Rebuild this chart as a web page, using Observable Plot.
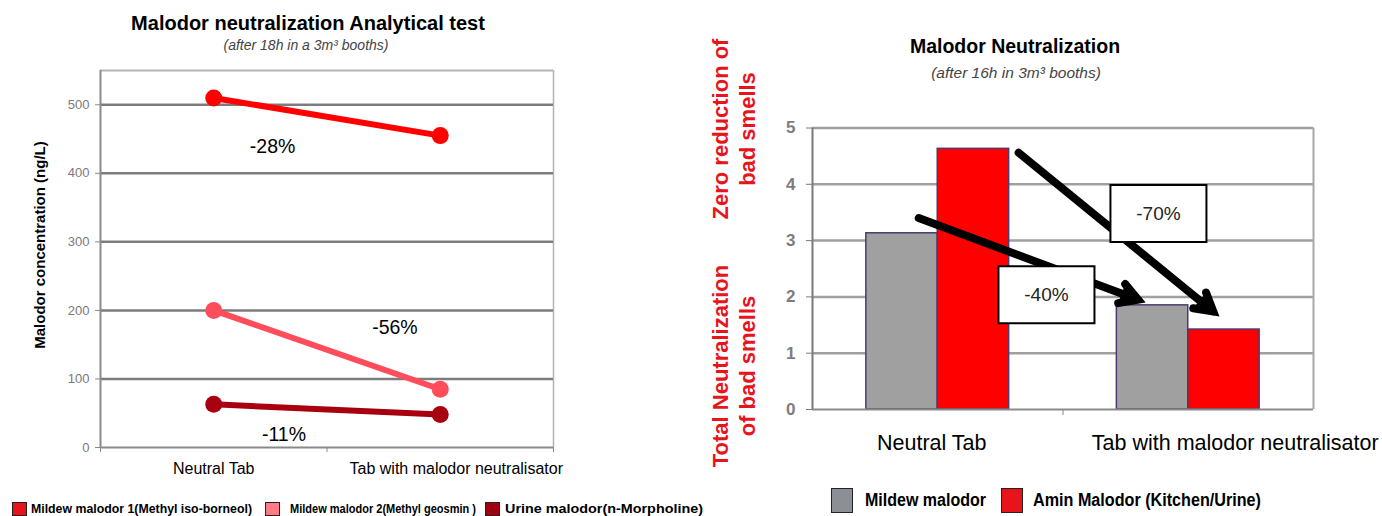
<!DOCTYPE html>
<html>
<head>
<meta charset="utf-8">
<script src="https://cdn.jsdelivr.net/npm/d3@7"></script>
<script src="https://cdn.jsdelivr.net/npm/@observablehq/plot@0.6"></script>
<style>
  html, body { margin: 0; padding: 0; background: #fff; }
  body { width: 1382px; height: 516px; position: relative; overflow: hidden;
         font-family: "Liberation Sans", Arial, sans-serif; }
  .abs { position: absolute; }
  .title { font-weight: bold; color: #000; white-space: nowrap; transform: translateX(-50%); }
  .sub { font-style: italic; color: #444; white-space: nowrap; transform: translateX(-50%); }
  .rot { color: #e8141c; font-weight: bold; font-size: 22px; line-height: 27px; text-align: center;
         white-space: nowrap; transform: translate(-50%, -50%) rotate(-90deg); }
  .leg { white-space: nowrap; font-weight: bold; color: #000; transform-origin: left center;
         font-family: "Liberation Sans", Arial, sans-serif; }
  .sw { display: inline-block; box-sizing: border-box; border: 1.5px solid #222; }
</style>
</head>
<body>
<div class="abs title" style="left:308px; top:12px; font-size:20px;">Malodor neutralization Analytical test</div>
<div class="abs sub" style="left:306px; top:37px; font-size:14px;">(after 18h in a 3m³ booths)</div>
<div class="abs title" style="left:1015px; top:35px; font-size:19.5px;">Malodor Neutralization</div>
<div class="abs sub" style="left:1016px; top:64px; font-size:15.5px;">(after 16h in 3m³ booths)</div>

<div class="abs rot" style="left:734px; top:129px;">Zero reduction of<br>bad smells</div>
<div class="abs rot" style="left:734px; top:366px;">Total Neutralization<br>of bad smells</div>

<div id="left" class="abs" style="left:0; top:50px;"></div>
<div id="right" class="abs" style="left:740px; top:110px;"></div>
<div id="legLeft"></div>
<div id="legRight"></div>

<script>
// ---------- data: left chart (line) ----------
const leftCategories = ["Neutral Tab", "Tab with malodor neutralisator"];
const leftSeries = ["Mildew malodor 1(Methyl iso-borneol)", "Mildew malodor 2(Methyl geosmin )", "Urine malodor(n-Morpholine)"];
const neutralTabValues = [510, 200, 63];
const neutraliserTabValues = [455, 85, 48];
const leftTicks = [0, 100, 200, 300, 400, 500];
const leftChangeText = ["-28%", "-56%", "-11%"];
const leftChangeAtX = [0.26, 0.80, 0.31];   // in category units
const leftChangeAtY = [439, 174, 19];       // in ng/L

// ---------- data: right chart (bars) ----------
const barCategories = ["Neutral Tab", "Tab with malodor neutralisator"];
const barSeries = ["Mildew malodor", "Amin Malodor (Kitchen/Urine)"];
const mildewValues = [3.13, 1.85];
const aminValues = [4.63, 1.42];
const barTicks = [0, 1, 2, 3, 4, 5];
const barChangeText = ["-70%", "-40%"];
const barChangeAtX = [0.881, 0.434];
const barChangeAtY = [3.48, 2.04];
const arrowFromX = [0.323, -0.076];
const arrowFromY = [4.56, 3.40];
const arrowToX = [1.10, 0.80];
const arrowToY = [1.74, 1.95];

// ---------- styles ----------
const lineColors = ["#ff0000", "#ff4d5c", "#a8000f"];
const legendLineColors = ["#e8141c", "#ff7b85", "#a0000f"];
const barColors = ["#a0a0a0", "#ff0000"];
const legendBarColors = ["#8c9096", "#e8141c"];
const FONT = "Liberation Sans, Arial, sans-serif";

// ---------- left chart ----------
const leftRows = [];
leftSeries.forEach((s, i) => {
  leftRows.push({series: s, ci: 0, value: neutralTabValues[i]});
  leftRows.push({series: s, ci: 1, value: neutraliserTabValues[i]});
});
const leftLabels = leftChangeText.map((t, i) => ({t, x: leftChangeAtX[i], y: leftChangeAtY[i]}));

const left = Plot.plot({
  width: 600, height: 432,
  marginLeft: 100, marginRight: 47, marginTop: 20, marginBottom: 35,
  x: {type: "linear", domain: [-0.5, 1.5], axis: null},
  y: {domain: [0, 550], axis: null},
  color: {domain: leftSeries, range: lineColors},
  style: {fontFamily: FONT, background: "transparent", overflow: "visible"},
  marks: [
    Plot.ruleY([550], {stroke: "#b4b4b4", strokeWidth: 2}),
    Plot.ruleX([1.5], {stroke: "#b4b4b4", strokeWidth: 1.5}),
    Plot.ruleY(leftTicks.slice(1), {stroke: "#7c7c7c", strokeWidth: 2.5}),
    Plot.ruleY([0], {stroke: "#8a8a8a", strokeWidth: 2}),
    Plot.ruleX([-0.5], {stroke: "#8a8a8a", strokeWidth: 2}),
    Plot.axisY({ticks: leftTicks, tickSize: 5, tickPadding: 6, stroke: "#8a8a8a", fill: "#7a7a7a",
                fontSize: 13, label: null, tickFormat: d => String(d)}),
    Plot.axisX({ticks: [-0.5, 0.5, 1.5], tickSize: 5, tickFormat: () => "", stroke: "#8a8a8a", label: null}),
    Plot.axisX({ticks: [0], tickSize: 0, tickPadding: 15, fontSize: 16, fill: "#000",
                tickFormat: i => leftCategories[i], label: null}),
    Plot.axisX({ticks: [1], tickSize: 0, tickPadding: 15, fontSize: 16, fill: "#000", dx: 16,
                tickFormat: i => leftCategories[i], label: null}),
    Plot.text(["Malodor concentration (ng/L)"], {frameAnchor: "left", textAnchor: "middle", rotate: -90,
                dx: -60, dy: -14, fontSize: 15, fontWeight: "bold", fill: "#000", text: d => d}),
    Plot.line(leftRows, {x: "ci", y: "value", z: "series", stroke: "series", strokeWidth: 6}),
    Plot.dot(leftRows, {x: "ci", y: "value", fill: "series", r: 8.5}),
    Plot.text(leftLabels, {x: "x", y: "y", text: "t", fontSize: 19.5, fill: "#000"})
  ]
});
document.getElementById("left").appendChild(left);

// ---------- right chart ----------
const barW = 0.285;
const barRows = [];
barCategories.forEach((c, ci) => {
  barRows.push({series: barSeries[0], ci, si: 0, value: mildewValues[ci]});
  barRows.push({series: barSeries[1], ci, si: 1, value: aminValues[ci]});
});
const arrows = arrowFromX.map((_, i) => ({x1: arrowFromX[i], y1: arrowFromY[i], x2: arrowToX[i], y2: arrowToY[i]}));
const boxes = barChangeText.map((t, i) => ({t, x: barChangeAtX[i], y: barChangeAtY[i]}));
const boxSymbol = {draw(ctx) { ctx.rect(-48, -28.5, 96, 57); }};

const right = Plot.plot({
  width: 642, height: 350,
  marginLeft: 72, marginRight: 69, marginTop: 17.5, marginBottom: 51,
  x: {type: "linear", domain: [-0.5, 1.5], axis: null},
  y: {domain: [0, 5], axis: null},
  color: {domain: barSeries, range: barColors},
  style: {fontFamily: FONT, background: "transparent", overflow: "visible"},
  marks: [
    Plot.ruleY(barTicks.slice(1), {stroke: "#a0a0a0", strokeWidth: 2.5}),
    Plot.ruleX([1.5], {stroke: "#a8a8a8", strokeWidth: 2}),
    Plot.rectY(barRows, {x1: d => d.ci + (d.si - 1) * barW, x2: d => d.ci + d.si * barW,
                         y1: 0, y2: "value", fill: "series", stroke: "#4a3a6e", strokeWidth: 1.5}),
    Plot.ruleY([0], {stroke: "#8a8a8a", strokeWidth: 2}),
    Plot.ruleX([-0.5], {stroke: "#7a7a7a", strokeWidth: 2}),
    Plot.axisY({ticks: barTicks, tickSize: 6, tickPadding: 11, stroke: "#7a7a7a", fill: "#7d7d7d",
                fontSize: 17, fontWeight: "bold", label: null, tickFormat: d => String(d)}),
    Plot.axisX({ticks: [0.5], tickSize: 6, tickFormat: () => "", stroke: "#8a8a8a", label: null}),
    Plot.axisX({ticks: [0], tickSize: 0, tickPadding: 25, fontSize: 21.5, fill: "#000", dx: -6,
                tickFormat: i => barCategories[i], label: null}),
    Plot.axisX({ticks: [1], tickSize: 0, tickPadding: 25, fontSize: 21.5, fill: "#000", dx: 47,
                tickFormat: i => barCategories[i], label: null}),
    Plot.arrow(arrows, {x1: "x1", y1: "y1", x2: "x2", y2: "y2", stroke: "#000",
                        strokeWidth: 8, headLength: 3.8, headAngle: 60}),
    Plot.dot(boxes, {x: "x", y: "y", symbol: boxSymbol, r: 10, fill: "#fff", stroke: "#000", strokeWidth: 2}),
    Plot.text(boxes, {x: "x", y: "y", text: "t", fontSize: 19, fill: "#222"})
  ]
});
// fill the arrowheads (the shaft sub-path has no area, so only the head triangle fills)
d3.select(right).selectAll('g[aria-label="arrow"] path')
  .attr("fill", "#000").attr("stroke-linejoin", "miter").attr("stroke-miterlimit", 4);
document.getElementById("right").appendChild(right);

// ---------- legends ----------
function legendItem(parent, color, text, swX, txtX, top, swW, swH, fs, targetW) {
  const sw = document.createElement("div");
  sw.className = "abs sw";
  sw.style.cssText = `left:${swX}px; top:${top - swH / 2}px; width:${swW}px; height:${swH}px; background:${color};`;
  parent.appendChild(sw);
  const t = document.createElement("div");
  t.className = "abs leg";
  t.style.cssText = `left:${txtX}px; top:${top}px; font-size:${fs}px; transform:translateY(-50%);`;
  t.textContent = text;
  parent.appendChild(t);
  const w = t.getBoundingClientRect().width;
  const k = w > 0 ? targetW / w : 1;
  t.style.transform = `translateY(-50%) scaleX(${k})`;
}
const legL = document.getElementById("legLeft");
const legLeftSw = [12, 265, 485], legLeftTx = [31, 290, 505], legLeftW = [221, 186, 198];
leftSeries.forEach((s, i) => legendItem(legL, legendLineColors[i], s, legLeftSw[i], legLeftTx[i], 509, 15, 14, 12.5, legLeftW[i]));
const legR = document.getElementById("legRight");
const legRightSw = [831, 1001], legRightTx = [865, 1033], legRightW = [121, 228];
barSeries.forEach((s, i) => legendItem(legR, legendBarColors[i], s, legRightSw[i], legRightTx[i], 500, 22, 25, 18, legRightW[i]));
</script>
</body>
</html>
